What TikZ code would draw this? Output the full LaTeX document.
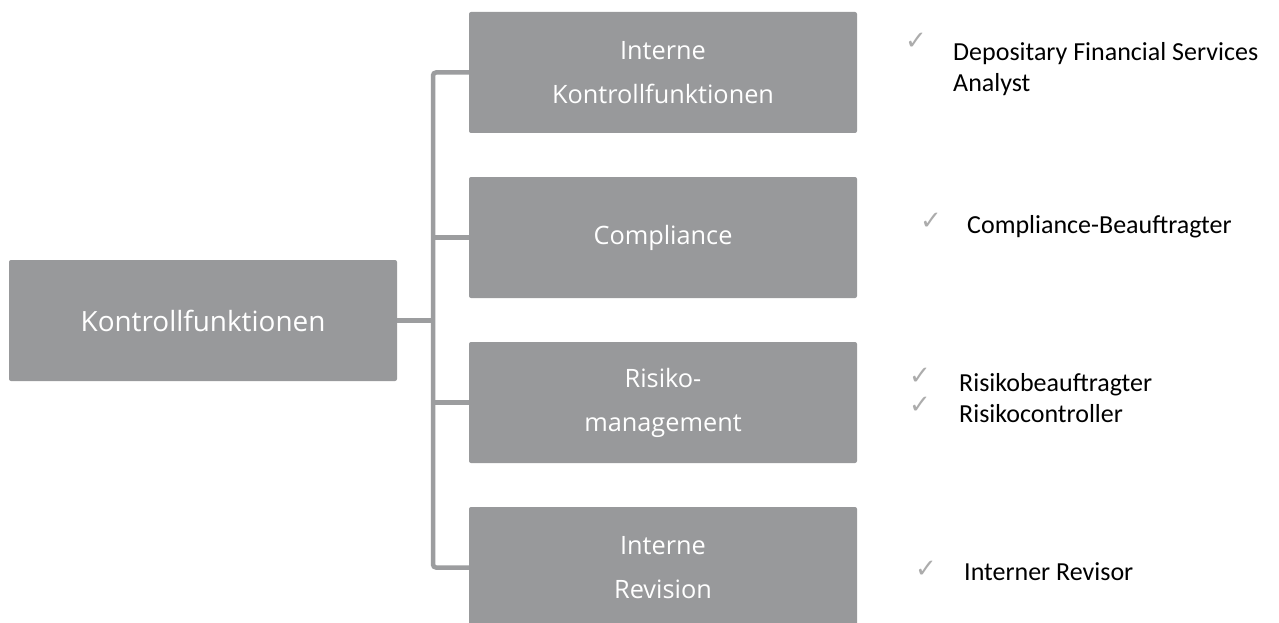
\documentclass[tikz,border=0pt]{standalone}
\usepackage{fontspec}
\setmainfont{Open Sans}
\newfontfamily\listfont{Carlito}
\newfontfamily\symfont{DejaVu Sans}
\definecolor{boxgray}{RGB}{152,153,155}
\definecolor{linegray}{RGB}{156,157,159}
\definecolor{tickgray}{RGB}{172,172,172}
\begin{document}
\begin{tikzpicture}[x=1pt,y=-1pt,
  box/.style={fill=boxgray, rounded corners=2pt, minimum width=388pt,
    minimum height=121pt, inner sep=0pt, text=white, align=center,
    font=\fontsize{25.3}{44}\selectfont},
  mainbox/.style={box, font=\fontsize{27.9}{32}\selectfont},
  conn/.style={draw=linegray, line width=4.5pt},
  item/.style={inner sep=0pt, anchor=base west, text=black,
    font=\listfont\fontsize{26}{31}\selectfont},
  tick/.style={inner sep=0pt, anchor=base west, text=tickgray,
    font=\symfont\fontsize{26}{26}\selectfont}]
\clip (0,0) rectangle (1279,623);
\fill[white] (0,0) rectangle (1279,623);

% root and the four control functions
\node[mainbox] (kf) at (203,320.5) {Kontrollfunktionen};
\node[box] (ik) at (663,72.5) {Interne\\Kontrollfunktionen};
\node[box] (co) at (663,237.5) {Compliance};
\node[box] (rm) at (663,402.5) {Risiko-\\management};
\node[box] (ir) at (663,567.5) {Interne\\Revision};

% bracket connector
\coordinate (bus) at (433,0);
\draw[conn] (kf.east) -- (kf.east -| bus);
\draw[conn, rounded corners=3pt] (ik.west) -| (ir.west -| bus) -- (ir.west);
\draw[conn] (co.west -| bus) -- (co.west);
\draw[conn] (rm.west -| bus) -- (rm.west);

% roles
\node[item] (d1) at (953,61) {Depositary Financial Services};
\node[item] (d2) at (953,92) {Analyst};
\node[item] (c1) at (967,233) {Compliance-Beauftragter};
\node[item] (r1) at (959,391) {Risikobeauftragter};
\node[item] (r2) at (959,422) {Risikocontroller};
\node[item] (v1) at (964,580) {Interner Revisor};

% tick bullets
\node[tick] (k1) at (905,50) {✓};
\node[tick] (k2) at (920,229) {✓};
\node[tick] (k3) at (909,384) {✓};
\node[tick] (k4) at (909,413) {✓};
\node[tick] (k5) at (915,577) {✓};
\end{tikzpicture}
\end{document}
